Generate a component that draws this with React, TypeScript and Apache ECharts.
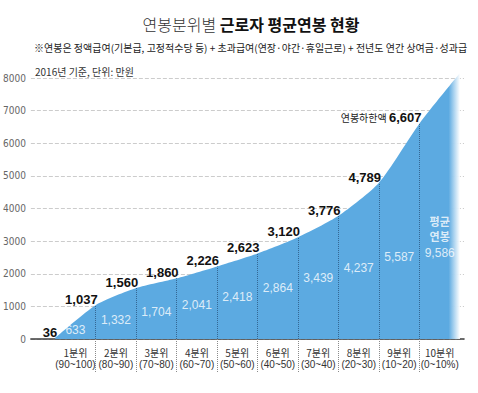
import React, { useEffect, useRef } from "react";
import * as echarts from "echarts";

const DECILES = ["1분위", "2분위", "3분위", "4분위", "5분위", "6분위", "7분위", "8분위", "9분위", "10분위"];
const RANGES = ["(90~100)", "(80~90)", "(70~80)", "(60~70)", "(50~60)", "(40~50)", "(30~40)", "(20~30)", "(10~20)", "(0~10%)"];
// 연봉하한액 (lower bound of each decile), plus the curve's end at the top edge (estimated)
const LOWER_BOUNDS = [36, 1037, 1560, 1860, 2226, 2623, 3120, 3776, 4789, 6607];
const TOP_END = 8150;
// 평균연봉 per decile
const AVERAGES = [633, 1332, 1704, 2041, 2418, 2864, 3439, 4237, 5587, 9586];
const AVG_CAPTION = "평균\n연봉";
// layout only: height (in axis units) at which each white average label is placed
const AVG_LABEL_Y = [280, 580, 830, 1040, 1290, 1560, 1870, 2180, 2520, 2640];
const AVG_CAPTION_Y = 3400;

const KR = "'Noto Sans CJK KR', 'Noto Sans', sans-serif";
const NUM = "'Liberation Sans', Arial, sans-serif";
const NARROW = "'Liberation Sans Narrow', 'DejaVu Sans Condensed', 'Liberation Sans', sans-serif";

const fmt = (v: number) => v.toLocaleString("en-US");

export default function App() {
  const ref = useRef<HTMLDivElement>(null);
  useEffect(() => {
    if (!ref.current) return;
    const chart = echarts.init(ref.current, null, { renderer: "svg" });
    const lineData = LOWER_BOUNDS.map((v, i) => [i, v]).concat([[LOWER_BOUNDS.length, TOP_END]]);
    const blue = "#5caae1";
    const last = AVERAGES.length - 1;
    chart.setOption({
      animation: false,
      backgroundColor: "#ffffff",
      title: [
        {
          text: "{a|연봉분위별 }{b|근로자 평균연봉 현황}",
          left: 246,
          top: 11,
          textAlign: "center",
          textStyle: {
            rich: {
              a: { fontFamily: KR, fontSize: 16, fontWeight: 300, color: "#333" },
              b: { fontFamily: KR, fontSize: 16, fontWeight: "bold", color: "#111" },
            },
          },
        },
        {
          text: "※연봉은 정액급여(기본급, 고정적수당 등) + 초과급여(연장·야간·휴일근로) + 전년도 연간 상여금·성과급",
          left: 29,
          top: 37,
          textStyle: { fontFamily: KR, fontSize: 10, fontWeight: "normal", color: "#222" },
        },
        {
          text: "2016년 기준, 단위: 만원",
          left: 30,
          top: 61,
          textStyle: { fontFamily: KR, fontSize: 10, fontWeight: "normal", color: "#333" },
        },
      ],
      grid: { left: 30, right: 14, top: 78, bottom: 54 },
      xAxis: {
        type: "value",
        min: -0.6,
        max: 10.1,
        axisLine: { show: true, lineStyle: { color: "#3c3c3c", width: 1.6 } },
        axisTick: {
          show: true,
          customValues: [1, 2, 3, 4, 5, 6, 7, 8, 9],
          length: 34,
          lineStyle: { type: "dotted", color: "#8a8a8a", width: 1 },
        },
        axisLabel: {
          customValues: DECILES.map((_, i) => i + 0.5),
          margin: 7,
          formatter: (v: number) => {
            const i = Math.round(v - 0.5);
            return `{d|${DECILES[i]}}\n{r|${RANGES[i]}}`;
          },
          rich: {
            d: { fontFamily: KR, fontSize: 10, color: "#333", lineHeight: 12, align: "center" },
            r: { fontFamily: NUM, fontSize: 10, color: "#333", lineHeight: 12, align: "center" },
          },
        },
        splitLine: { show: false },
      },
      yAxis: {
        type: "value",
        min: 0,
        max: 8000,
        interval: 1000,
        axisLine: { show: false },
        axisTick: { show: false },
        axisLabel: {
          color: "#666",
          fontSize: 10,
          fontFamily: NARROW,
          margin: 5,
          formatter: (v: number) => String(v),
        },
        splitLine: { lineStyle: { type: "dashed", color: "#cccccc", width: 1 } },
      },
      series: [
        {
          type: "line",
          data: lineData,
          smooth: 0.22,
          clip: false,
          symbol: "circle",
          symbolSize: 2,
          showSymbol: true,
          itemStyle: { color: "rgba(0,0,0,0)" },
          lineStyle: { width: 0, opacity: 0 },
          areaStyle: {
            opacity: 1,
            color: new echarts.graphic.LinearGradient(0, 0, 1, 0, [
              { offset: 0, color: blue },
              { offset: 0.972, color: blue },
              { offset: 1, color: "rgba(255,255,255,0.95)" },
            ]),
          },
          label: {
            show: true,
            position: [3, 2],
            align: "right",
            verticalAlign: "bottom",
            fontFamily: NUM,
            fontSize: 13,
            fontWeight: "bold",
            color: "#111",
            formatter: (p: any) => {
              const i = p.dataIndex;
              if (i >= LOWER_BOUNDS.length) return "";
              if (i === LOWER_BOUNDS.length - 1)
                return `{p|연봉하한액 }{b|${fmt(LOWER_BOUNDS[i])}}`;
              return fmt(LOWER_BOUNDS[i]);
            },
            rich: {
              p: { fontFamily: KR, fontSize: 10, fontWeight: "normal", color: "#222" },
              b: { fontFamily: NUM, fontSize: 13, fontWeight: "bold", color: "#111" },
            },
          },
          markLine: {
            silent: true,
            symbol: ["none", "none"],
            label: { show: false },
            lineStyle: { type: "dotted", color: "rgba(40,80,120,0.75)", width: 1 },
            data: LOWER_BOUNDS.slice(1).map((v, i) => [
              { coord: [i + 1, 0] },
              { coord: [i + 1, v] },
            ]),
          },
          z: 2,
        },
        {
          type: "scatter",
          symbolSize: 0,
          silent: true,
          z: 3,
          data: AVERAGES.map((v, i) => ({ value: [i + 0.5, AVG_LABEL_Y[i]] })),
          label: {
            show: true,
            position: "inside",
            color: "#ffffff",
            fontFamily: NUM,
            fontSize: 12,
            formatter: (p: any) => fmt(AVERAGES[p.dataIndex]),
          },
        },
        {
          type: "scatter",
          symbolSize: 0,
          silent: true,
          z: 3,
          data: [{ value: [last + 0.5, AVG_CAPTION_Y] }],
          label: {
            show: true,
            position: "inside",
            color: "#ffffff",
            fontFamily: KR,
            fontSize: 11,
            fontWeight: "bold",
            lineHeight: 15,
            align: "center",
            formatter: () => AVG_CAPTION,
          },
        },
      ],
    });
    return () => chart.dispose();
  }, []);
  return (
    <div
      ref={ref}
      style={{ position: "fixed", left: 0, top: 0, width: 478, height: 393, background: "#fff" }}
    />
  );
}
